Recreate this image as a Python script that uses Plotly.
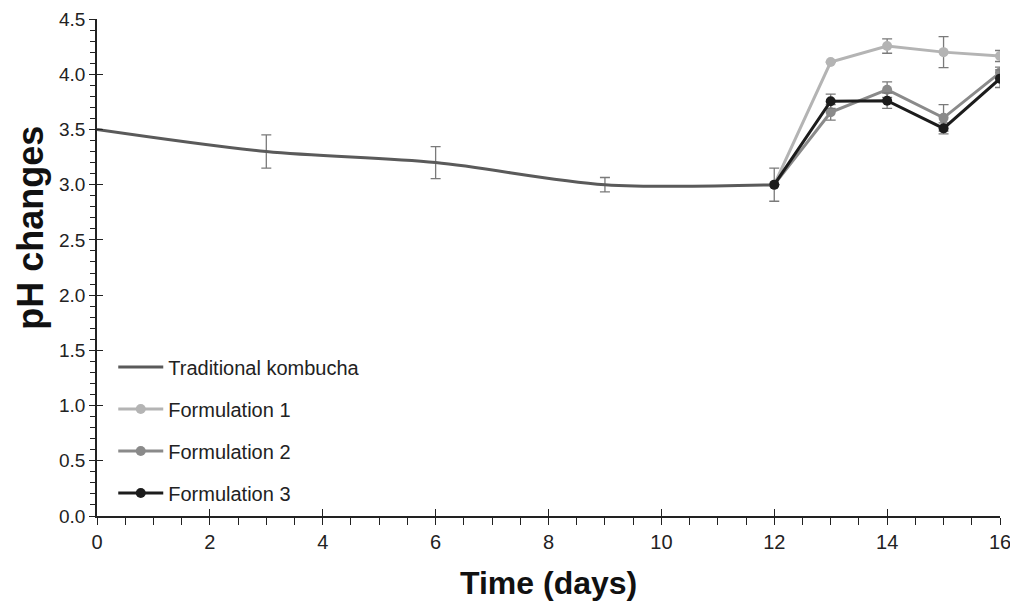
import plotly.graph_objects as go

# Data
trad_x = [0, 3, 6, 9, 12]
trad_y = [3.50, 3.30, 3.20, 3.00, 3.00]
trad_err = [0.0, 0.15, 0.145, 0.065, 0.15]

form_x = [12, 13, 14, 15, 16]
f1_y = [3.00, 4.11, 4.255, 4.20, 4.165]
f1_err = [0.0, 0.0, 0.065, 0.14, 0.05]
f2_y = [3.00, 3.655, 3.86, 3.605, 4.015]
f2_err = [0.0, 0.07, 0.07, 0.12, 0.05]
f3_y = [3.00, 3.755, 3.76, 3.51, 3.96]
f3_err = [0.0, 0.065, 0.07, 0.05, 0.08]

x_ticks = [0, 2, 4, 6, 8, 10, 12, 14, 16]
y_ticks = [0.0, 0.5, 1.0, 1.5, 2.0, 2.5, 3.0, 3.5, 4.0, 4.5]

ERR_COLOR = "#7a7a7a"

fig = go.Figure()

def err(vals):
    return dict(type="data", array=vals, visible=True, color=ERR_COLOR, thickness=1.3, width=5)

fig.add_trace(go.Scatter(
    x=trad_x, y=trad_y, mode="lines", name="Traditional kombucha",
    line=dict(color="#5a5a5a", width=3, shape="spline", smoothing=0.9),
    error_y=err(trad_err), legendgroup="a"))
fig.add_trace(go.Scatter(
    x=form_x, y=f1_y, mode="lines+markers", name="Formulation 1",
    line=dict(color="#b4b4b4", width=3), marker=dict(color="#b4b4b4", size=10),
    error_y=err(f1_err), legendgroup="b"))
fig.add_trace(go.Scatter(
    x=form_x, y=f2_y, mode="lines+markers", name="Formulation 2",
    line=dict(color="#8a8a8a", width=3), marker=dict(color="#8a8a8a", size=10),
    error_y=err(f2_err), legendgroup="c"))
fig.add_trace(go.Scatter(
    x=form_x, y=f3_y, mode="lines+markers", name="Formulation 3",
    line=dict(color="#1c1c1c", width=3), marker=dict(color="#1c1c1c", size=10),
    error_y=err(f3_err), legendgroup="d"))

# invisible helper trace for inside-tick overlay axes
fig.add_trace(go.Scatter(x=[0], y=[0], xaxis="x2", yaxis="y2", mode="markers",
                         marker=dict(opacity=0), showlegend=False, hoverinfo="skip"))

fig.update_layout(
    width=1010, height=595,
    paper_bgcolor="white", plot_bgcolor="white",
    margin=dict(l=89, r=18, t=11, b=87),
    font=dict(family="Liberation Sans, Arial, sans-serif", color="#222"),
    showlegend=True,
    legend=dict(x=0.018, y=0.339, xanchor="left", yanchor="top",
                font=dict(size=20, color="#222"), traceorder="grouped",
                tracegroupgap=13, itemwidth=45, bgcolor="rgba(0,0,0,0)"),
    xaxis=dict(range=[0, 16], tickvals=x_ticks, ticktext=[str(v) for v in x_ticks],
               automargin=False,
               showgrid=False, zeroline=False, showline=True, linecolor="#222", linewidth=1.5,
               ticks="outside", ticklen=7, tickcolor="#222", tickwidth=1.2,
               tickfont=dict(size=20),
               minor=dict(dtick=0.5, ticks="outside", ticklen=7, tickcolor="#222", tickwidth=1)),
    yaxis=dict(range=[0, 4.5], tickvals=y_ticks, ticktext=[f"{v:.1f}" for v in y_ticks],
               automargin=False,
               showgrid=False, zeroline=False, showline=True, linecolor="#222", linewidth=1.5,
               ticks="outside", ticklen=6, tickcolor="#222", tickwidth=1.2,
               tickfont=dict(size=19),
               minor=dict(dtick=0.1, ticks="outside", ticklen=5, tickcolor="#222", tickwidth=1)),
    xaxis2=dict(range=[0, 16], overlaying="x", side="bottom", tickvals=x_ticks,
                automargin=False,
                showticklabels=False, showgrid=False, zeroline=False, showline=False,
                ticks="inside", ticklen=7, tickcolor="#222", tickwidth=1.2),
    yaxis2=dict(range=[0, 4.5], overlaying="y", side="left", tickvals=y_ticks,
                automargin=False,
                showticklabels=False, showgrid=False, zeroline=False, showline=False,
                ticks="inside", ticklen=6, tickcolor="#222", tickwidth=1.2),
    annotations=[
        dict(text="<b>Time (days)</b>", x=0.5, y=-0.135, xref="paper", yref="paper",
             xanchor="center", yanchor="middle", showarrow=False,
             font=dict(size=32, color="#111", family="Liberation Sans, Arial")),
        dict(text="<b>pH changes</b>", x=-0.073, y=0.58, xref="paper", yref="paper",
             xanchor="center", yanchor="middle", showarrow=False, textangle=-90,
             font=dict(size=36, color="#111", family="Liberation Sans, Arial")),
    ],
)

fig.write_html("out.html")
